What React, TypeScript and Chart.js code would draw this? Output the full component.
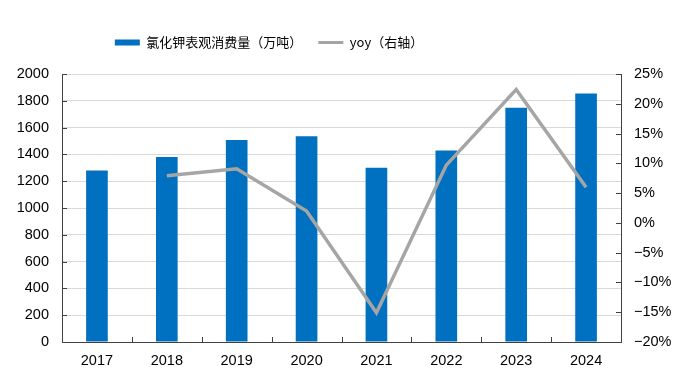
import { useEffect, useRef } from "react";
import { Chart, registerables } from "chart.js";
Chart.register(...registerables);

const years = ["2017", "2018", "2019", "2020", "2021", "2022", "2023", "2024"];
const consumption = [1280, 1380, 1507, 1536, 1301, 1430, 1748, 1855];
const yoy = [null, 7.9, 9.1, 2.0, -15.1, 9.7, 22.4, 6.0];
const barLabel = "氯化钾表观消费量（万吨）";
const lineLabel = "yoy（右轴）";

const tickFont = { family: "'Liberation Sans', Arial, sans-serif", size: 14.5 };

const tickMarks = {
  id: "tickMarks",
  afterDraw(chart: any) {
    const { ctx, chartArea, scales } = chart;
    ctx.save();
    ctx.strokeStyle = "#404040";
    ctx.lineWidth = 1;
    ctx.beginPath();
    scales.y.ticks.forEach((t: any) => {
      const y = Math.round(scales.y.getPixelForValue(t.value)) + 0.5;
      ctx.moveTo(chartArea.left, y);
      ctx.lineTo(chartArea.left + 5, y);
    });
    scales.y1.ticks.forEach((t: any) => {
      const y = Math.round(scales.y1.getPixelForValue(t.value)) + 0.5;
      ctx.moveTo(chartArea.right - 5, y);
      ctx.lineTo(chartArea.right, y);
    });
    for (let i = 1; i < years.length; i++) {
      const x = Math.round((scales.x.getPixelForValue(i - 1) + scales.x.getPixelForValue(i)) / 2) + 0.5;
      ctx.moveTo(x, chartArea.bottom);
      ctx.lineTo(x, chartArea.bottom - 5);
    }
    ctx.stroke();
    ctx.restore();
  },
};

const shiftLegend = {
  id: "shiftLegend",
  afterLayout(chart: any) {
    const l = chart.legend;
    if (l) {
      l.left -= 68.5;
      l.right -= 68.5;
      l.top -= 15;
      l.bottom -= 15;
    }
  },
};

export default function App() {
  const ref = useRef<HTMLCanvasElement | null>(null);
  useEffect(() => {
    document.body.style.margin = "0";
    const chart = new Chart(ref.current as HTMLCanvasElement, {
      type: "bar",
      data: {
        labels: years,
        datasets: [
          {
            type: "bar",
            label: barLabel,
            data: consumption,
            backgroundColor: "#0070C0",
            borderWidth: 0,
            barPercentage: 0.31,
            categoryPercentage: 1,
            yAxisID: "y",
            order: 1,
          } as any,
          {
            type: "line",
            label: lineLabel,
            data: yoy,
            borderColor: "#A5A5A5",
            backgroundColor: "#A5A5A5",
            borderWidth: 3.5,
            pointRadius: 0,
            tension: 0,
            yAxisID: "y1",
            order: 0,
          } as any,
        ],
      },
      options: {
        animation: false,
        responsive: false,
        layout: { padding: { top: 35, left: 0, right: 0, bottom: 0 } },
        plugins: {
          tooltip: { enabled: false },
          legend: {
            position: "top",
            labels: {
              usePointStyle: true,
              pointStyleWidth: 25,
              boxWidth: 25,
              boxHeight: 6,
              padding: 16,
              color: "#000",
              font: { family: "'Noto Sans CJK SC', sans-serif", size: 13 },
              sort: (a: any, b: any) => a.datasetIndex - b.datasetIndex,
              generateLabels: (chart: any) =>
                chart.data.datasets.map((ds: any, i: number) => ({
                  text: ds.label,
                  fillStyle: ds.type === "bar" ? "#0070C0" : "#A5A5A5",
                  strokeStyle: ds.type === "bar" ? "#0070C0" : "#A5A5A5",
                  lineWidth: ds.type === "bar" ? 0 : 3,
                  pointStyle: ds.type === "bar" ? "rect" : "line",
                  datasetIndex: i,
                  hidden: false,
                  fontColor: "#000",
                })),
            },
          },
        },
        scales: {
          x: {
            offset: true,
            grid: { display: false, drawTicks: false },
            border: { display: true, color: "#404040", width: 1 },
            ticks: { color: "#000", font: tickFont, padding: 10, maxRotation: 0 },
            afterFit: (s: any) => {
              s.height = 47;
            },
          },
          y: {
            position: "left",
            min: 0,
            max: 2000,
            grid: { color: "#D9D9D9", lineWidth: 1, drawTicks: false },
            border: { display: true, color: "#404040", width: 1 },
            ticks: {
              stepSize: 200,
              color: "#000",
              font: tickFont,
              padding: 13,
              callback: (v: any) => String(v),
            },
            afterFit: (s: any) => {
              s.width = 62;
            },
          },
          y1: {
            position: "right",
            min: -20,
            max: 25,
            grid: { display: false, drawTicks: false },
            border: { display: true, color: "#404040", width: 1 },
            ticks: {
              stepSize: 5,
              color: "#000",
              font: tickFont,
              padding: 13,
              callback: (v: any) => (v < 0 ? "−" + Math.abs(v) : String(v)) + "%",
            },
            afterFit: (s: any) => {
              s.width = 54;
            },
          },
        },
      },
      plugins: [tickMarks, shiftLegend],
    });
    return () => chart.destroy();
  }, []);
  return (
    <div style={{ position: "absolute", left: 0, top: 0, width: 675, height: 389 }}>
      <canvas ref={ref} width={675} height={389} style={{ display: "block" }} />
    </div>
  );
}
